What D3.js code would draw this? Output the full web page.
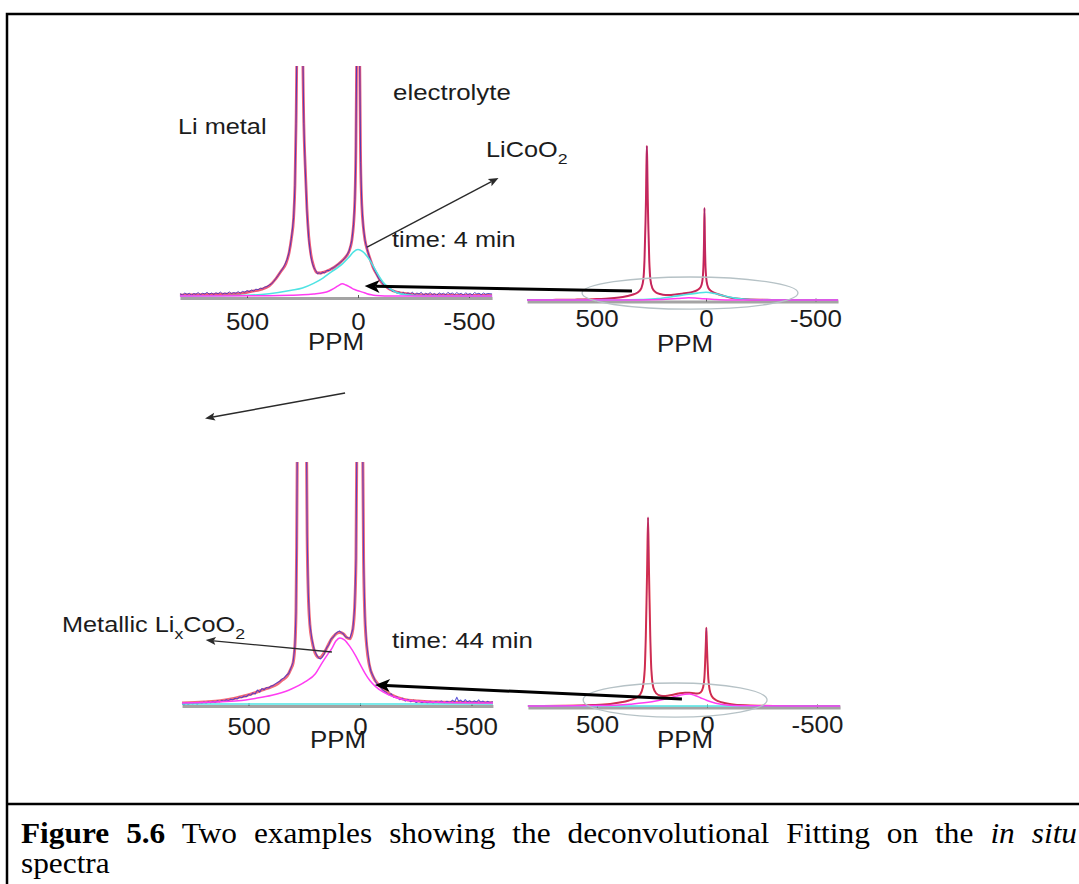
<!DOCTYPE html>
<html>
<head>
<meta charset="utf-8">
<script src="https://cdn.jsdelivr.net/npm/d3@7"></script>
<style>
  body { margin: 0; background: #fff; }
  svg { display: block; }
</style>
</head>
<body>
<svg id="fig" width="1079" height="884"></svg>
<script>
// ---------- values: [chemical shift (ppm), intensity (arb.)] ----------
const tickLabels = [500, 0, -500];

// 4 min, expanded view
const fit4 = [[802,0.4],[700,0.6],[600,0.8],[540,1.0],[480,2.0],[440,2.8],[400,4.4],[370,7.5],[345,11],[325,14],[310,19],[300,25],[290,34],[284,48],[279,75],[275,110],[268,260],[262,330],[256,260],[249,110],[244,75],[238,57],[230,38],[222,26],[212,18],[200,13],[185,10.2],[170,10],[150,10.5],[125,11.5],[100,13],[75,15],[55,17],[40,19.5],[28,24],[20,31],[14,42],[10,60],[6,105],[2,300],[0,340],[-4,250],[-8,100],[-12,58],[-17,40],[-24,30],[-32,24],[-42,20],[-55,16],[-70,12],[-84,9.5],[-105,6],[-130,3.8],[-160,2.2],[-200,1.2],[-260,0.6],[-350,0.4],[-450,0.3],[-604,0.2]];
const data4 = [[802,1.0],[790,0.5],[780,1.3],[770,0.7],[760,1.2],[750,0.4],[740,1.1],[730,0.8],[720,1.5],[710,0.6],[700,1.2],[690,0.9],[680,1.6],[670,0.8],[660,1.3],[650,0.7],[640,1.4],[630,1.0],[620,1.7],[610,0.9],[600,1.3],[590,1.0],[580,1.8],[570,1.1],[560,1.5],[550,1.2],[540,1.9],[530,1.3],[520,2.0],[510,1.6],[500,2.4],[490,1.9],[480,2.6],[470,2.2],[460,3.0],[450,2.7],[440,3.4],[430,3.2],[420,3.9],[410,4.1],[400,4.8],[390,5.2],[380,6.3],[370,7.6],[360,8.9],[350,10.4],[340,11.8],[330,13.6],[320,15.8],[310,19.2],[300,25],[290,34],[284,48],[279,75],[275,110],[268,260],[262,330],[256,260],[249,110],[244,75],[238,56],[230,37],[222,25],[212,17],[205,14],[198,12.2],[190,11.0],[182,9.6],[175,10.2],[168,9.5],[160,10.4],[150,10.0],[140,11.2],[130,11.0],[120,12.0],[110,12.3],[100,13.1],[90,13.8],[80,14.6],[70,15.4],[60,16.4],[50,17.8],[40,19.6],[28,24],[20,31],[14,42],[10,60],[6,105],[2,300],[0,340],[-4,250],[-8,100],[-12,58],[-17,40],[-24,30],[-32,24],[-42,20],[-55,16],[-70,12],[-84,9.3],[-95,7.2],[-105,6.4],[-115,4.8],[-125,4.4],[-135,3.2],[-145,3.0],[-155,2.0],[-165,2.3],[-175,1.2],[-185,1.8],[-195,0.9],[-205,1.6],[-215,0.6],[-225,1.4],[-235,0.8],[-245,1.7],[-255,0.5],[-265,1.3],[-275,0.9],[-285,1.6],[-295,0.4],[-305,1.2],[-315,0.7],[-325,1.5],[-335,0.6],[-345,1.1],[-355,0.3],[-365,1.4],[-375,0.8],[-385,1.2],[-395,0.5],[-405,1.6],[-415,0.9],[-425,1.3],[-435,0.6],[-445,1.5],[-455,0.8],[-465,1.2],[-475,0.4],[-485,1.4],[-495,0.7],[-505,1.1],[-515,0.5],[-525,1.5],[-535,0.9],[-545,1.2],[-555,0.6],[-565,1.3],[-575,0.8],[-585,1.1],[-604,0.9]];
const broad4 = [[802,0],[500,0.3],[400,1.0],[300,2.5],[250,3.5],[200,5.5],[158,7.8],[120,10.5],[90,12.5],[68,14.2],[40,17],[20,19.2],[0,20.2],[-20,19.4],[-53,15.6],[-80,11],[-113,6],[-140,3.5],[-173,1.5],[-220,0.5],[-300,0.1],[-604,0]];
const shoulder4 = [[802,0],[400,0.1],[300,0.3],[250,0.5],[200,0.9],[158,1.4],[130,2.2],[110,3.2],[90,4.4],[70,5.3],[55,4.8],[35,3.8],[15,2.8],[0,2.3],[-20,1.7],[-40,1.0],[-60,0.5],[-80,0.2],[-120,0],[-604,0]];

// 4 min, full view
const fit4Full = [[817,0],[700,0.05],[600,0.15],[500,0.4],[430,0.8],[380,1.3],[340,2.2],[310,3.4],[295,5.2],[286,9],[281,17],[277,31],[274,44],[272,58],[270,67],[268,58],[266,44],[263,31],[259,17],[254,9],[245,5.2],[230,3.4],[210,2.6],[185,2.2],[160,2.2],[130,2.5],[100,2.9],[70,3.3],[40,4.3],[25,5.5],[17,8],[12,14],[9,26],[7,40],[5,26],[2,14],[-3,8],[-11,5.2],[-25,3.8],[-45,2.9],[-80,1.8],[-120,0.9],[-170,0.4],[-250,0.1],[-350,0],[-603,0]];
const data4Full = [[817,0.1],[760,-0.1],[700,0.2],[640,0.0],[580,0.3],[520,0.2],[460,0.6],[420,0.9],[380,1.3],[340,2.3],[310,3.5],[295,5.2],[286,9],[281,17],[277,31],[274,44],[272,58],[270,67],[268,58],[266,44],[263,31],[259,17],[254,9],[245,5.0],[230,3.5],[210,2.5],[185,2.3],[160,2.1],[130,2.6],[100,2.8],[70,3.4],[40,4.2],[25,5.6],[17,8],[12,14],[9,26],[7,40],[5,26],[2,14],[-3,8],[-11,5.1],[-25,3.9],[-45,2.8],[-80,1.9],[-120,0.8],[-170,0.5],[-220,0.1],[-280,0.3],[-340,0.0],[-400,0.2],[-470,-0.1],[-540,0.2],[-603,0.0]];
const broad4Full = [[817,0],[400,0],[300,0.2],[220,0.6],[150,1.5],[90,2.4],[40,3.0],[0,3.4],[-40,2.8],[-90,1.6],[-140,0.7],[-200,0.2],[-300,0],[-603,0]];
const shoulder4Full = [[817,0],[300,0],[200,0.2],[130,0.6],[80,1.0],[50,0.9],[10,0.5],[-40,0.2],[-100,0],[-603,0]];

// 44 min, expanded view
const fit44 = [[798,0.4],[700,0.8],[626,1.3],[560,2.4],[506,3.6],[470,4.7],[432,6.0],[400,7.0],[372,8.2],[350,9.8],[327,11.5],[310,14.5],[300,17],[292,24],[287,38],[284,65],[281,110],[270,300],[260,400],[250,300],[240,110],[237,70],[232,46],[225,33],[215,26],[205,22],[195,20],[185,19.2],[175,19.4],[165,20.5],[150,23],[130,26.5],[110,28.8],[92,29.5],[75,29],[60,27.5],[45,27],[32,31],[24,40],[18,60],[14,110],[5,350],[0,400],[-5,350],[-12,110],[-16,60],[-22,36],[-30,24],[-42,16],[-60,11],[-80,8.3],[-103,6.2],[-140,3.8],[-193,2.0],[-260,1.2],[-350,0.8],[-450,0.6],[-596,0.5]];
const data44 = [[798,0.2],[790,-0.3],[780,0.4],[770,-0.2],[760,0.5],[750,0.0],[740,0.6],[730,-0.1],[720,0.7],[710,0.2],[700,0.8],[690,0.3],[680,0.9],[670,0.4],[660,1.1],[650,0.6],[640,1.3],[630,0.9],[620,1.4],[610,1.1],[600,1.8],[590,1.4],[580,2.0],[570,1.7],[560,2.4],[550,2.1],[540,2.9],[530,2.6],[520,3.3],[510,3.0],[500,3.9],[490,3.6],[480,4.6],[470,4.1],[460,5.8],[450,4.9],[440,6.4],[430,5.9],[420,6.8],[410,6.6],[400,7.4],[390,7.6],[380,8.3],[370,8.9],[360,9.4],[350,10.3],[340,10.8],[330,11.9],[320,12.6],[310,14.8],[300,17.3],[292,24],[287,38],[284,65],[281,110],[270,300],[260,400],[250,300],[240,110],[237,70],[232,46],[225,33],[215,26.5],[205,22.4],[195,20.3],[185,19.0],[178,18.6],[170,19.3],[160,20.8],[150,23.2],[140,24.5],[130,26.8],[120,27.6],[110,29.0],[100,29.8],[92,30.2],[85,29.6],[75,29.0],[65,27.8],[55,27.4],[45,27.2],[32,31],[24,40],[18,60],[14,110],[5,350],[0,400],[-5,350],[-12,110],[-16,60],[-22,36],[-30,24.5],[-42,16.5],[-50,13.2],[-60,11.4],[-70,9.2],[-80,8.0],[-90,7.3],[-103,5.6],[-115,5.0],[-128,3.8],[-140,4.2],[-152,2.7],[-165,3.0],[-178,1.8],[-190,2.4],[-203,1.2],[-215,1.9],[-228,0.9],[-240,1.6],[-252,0.6],[-265,1.3],[-278,0.5],[-290,1.2],[-302,0.4],[-315,1.1],[-328,0.3],[-340,1.0],[-352,0.5],[-365,1.3],[-378,0.4],[-390,1.1],[-402,0.6],[-415,1.6],[-425,0.9],[-434,2.8],[-442,1.2],[-452,1.6],[-462,0.7],[-472,1.8],[-482,0.9],[-492,1.4],[-502,0.6],[-512,1.3],[-522,0.8],[-532,1.7],[-542,0.7],[-552,1.2],[-562,0.5],[-572,1.1],[-582,0.6],[-596,0.9]];
const broad44 = [[798,0],[-596,0]];
const shoulder44 = [[798,0.4],[650,0.8],[546,1.3],[470,2.3],[395,3.6],[320,5.7],[245,9.2],[200,12.5],[170,17],[145,20.5],[126,23],[108,26],[90,27.3],[70,26.5],[45,23.7],[20,20],[0,16.5],[-22,12.8],[-45,9.6],[-70,7.2],[-103,5.0],[-150,3.0],[-193,1.9],[-260,1.1],[-345,0.7],[-450,0.5],[-596,0.4]];

// 44 min, full view
const fit44Full = [[814,0],[650,0.1],[520,0.4],[440,0.9],[390,1.6],[355,2.4],[330,3.2],[305,4.8],[292,8],[283,16],[278,31],[275,45],[272,60],[268,82],[264,60],[261,45],[258,31],[253,16],[244,8],[231,5.5],[210,4.5],[190,4.4],[160,4.8],[130,5.4],[100,5.8],[80,5.8],[60,5.5],[45,5.4],[28,6],[18,8],[12,12],[8,20],[5,28],[3,34],[1,28],[-2,20],[-6,12],[-12,7],[-22,4.2],[-40,2.6],[-70,1.5],[-110,0.8],[-170,0.3],[-250,0.1],[-350,0],[-605,0]];
const data44Full = [[814,0.1],[760,-0.1],[700,0.2],[650,0.0],[590,0.3],[520,0.5],[440,0.8],[390,1.7],[355,2.3],[330,3.3],[305,4.7],[292,8],[283,16],[278,31],[275,45],[272,60],[268,82],[264,60],[261,45],[258,31],[253,16],[244,8],[231,5.4],[210,4.6],[190,4.3],[160,4.9],[130,5.3],[100,5.9],[80,5.7],[60,5.6],[45,5.3],[28,6.1],[18,8],[12,12],[8,20],[5,28],[3,34],[1,28],[-2,20],[-6,12],[-12,7],[-22,4.3],[-40,2.5],[-70,1.6],[-110,0.7],[-170,0.4],[-230,0.0],[-300,0.2],[-380,-0.1],[-450,0.2],[-520,0.0],[-605,0.1]];
const broad44Full = [[814,0],[-605,0]];
const shoulder44Full = [[814,0],[500,0.2],[350,0.8],[250,1.8],[190,3.0],[140,4.3],[100,5.1],[80,5.2],[55,4.6],[30,3.6],[0,2.4],[-40,1.2],[-90,0.4],[-150,0.1],[-605,0]];

// ---------- drawing ----------
const svg = d3.select('#fig');
const SANS = '"Liberation Sans", Arial, Helvetica, sans-serif';
const SERIF = '"Liberation Serif", "Times New Roman", Times, serif';
const defs = svg.append('defs');

// figure frame and caption rule
svg.append('rect').attr('x', 7).attr('y', 14).attr('width', 1100).attr('height', 900)
  .attr('fill', 'none').attr('stroke', '#000').attr('stroke-width', 2.5);
svg.append('line').attr('x1', 7).attr('x2', 1079).attr('y1', 804).attr('y2', 804)
  .attr('stroke', '#000').attr('stroke-width', 2.5);

const colors = { broad: '#4fe3e3', shoulder: '#ff3cf2' };

function makePanel(cfg) {
  const x = d3.scaleLinear().domain(cfg.ppm)
    .range([cfg.zero - cfg.ppm[0] * cfg.k, cfg.zero - cfg.ppm[1] * cfg.k]);
  const y = d3.scaleLinear().domain([0, 100]).range([cfg.base, cfg.base - 100 * cfg.unit]);
  const g = svg.append('g');

  const clipId = 'clip-' + cfg.id;
  defs.append('clipPath').attr('id', clipId).append('rect')
    .attr('x', x.range()[0] - 2).attr('y', cfg.top)
    .attr('width', x.range()[1] - x.range()[0] + 4).attr('height', cfg.base - cfg.top + 8);

  // axis
  const axis = d3.axisBottom(x).tickValues(tickLabels).tickFormat(d => String(d))
    .tickSizeInner(-3).tickSizeOuter(0);
  const ag = g.append('g').attr('transform', `translate(0,${cfg.axisY})`).call(axis)
    .attr('font-family', SANS).attr('font-size', 24);
  ag.select('.domain').attr('stroke', '#a4a4a4').attr('stroke-width', 3);
  ag.selectAll('.tick line').attr('stroke', '#555').attr('stroke-width', 1);
  ag.selectAll('.tick text').attr('y', cfg.tickY).attr('dy', 0).attr('fill', '#1c1c1c')
    .attr('transform', 'scale(1.08,1)');

  // axis title
  g.append('text').attr('transform', `translate(${cfg.ppmX},${cfg.ppmY}) scale(1.08,1)`)
    .attr('text-anchor', 'middle').attr('font-family', SANS).attr('font-size', 24)
    .attr('fill', '#1c1c1c').text('PPM');

  // spectra
  const plot = g.append('g').attr('clip-path', `url(#${clipId})`);
  const smooth = d3.line().x(d => x(d[0])).y(d => y(d[1])).curve(d3.curveMonotoneX);
  const raw = d3.line().x(d => x(d[0])).y(d => y(d[1]));
  plot.append('path').datum(cfg.fit).attr('d', smooth).attr('fill', 'none')
    .attr('stroke', cfg.fitColor).attr('stroke-width', cfg.fitW);
  plot.append('path').datum(cfg.data).attr('d', raw).attr('fill', 'none')
    .attr('stroke', cfg.dataColor).attr('stroke-width', cfg.dataW).attr('stroke-linejoin', 'round');
  plot.append('path').datum(cfg.broad).attr('d', smooth).attr('fill', 'none')
    .attr('stroke', colors.broad).attr('stroke-width', 1.6);
  plot.append('path').datum(cfg.shoulder).attr('d', smooth).attr('fill', 'none')
    .attr('stroke', colors.shoulder).attr('stroke-width', 1.5);

  return { x, y, g };
}

const pTL = makePanel({ id: 'tl', ppm: [802, -604], zero: 358, k: 0.222, base: 296, unit: 2.3, top: 66,
  axisY: 298, tickY: 32, ppmX: 336, ppmY: 350, fitW: 2.8, dataW: 1.0,
  fitColor: '#ee5a78', dataColor: 'rgba(60,50,190,0.85)',
  fit: fit4, data: data4, broad: broad4, shoulder: shoulder4 });
const pTR = makePanel({ id: 'tr', ppm: [817, -603], zero: 706, k: 0.219, base: 300, unit: 2.3, top: 70,
  axisY: 301.5, tickY: 26, ppmX: 685, ppmY: 352, fitW: 2.0, dataW: 0.7,
  fitColor: '#e0284f', dataColor: 'rgba(110,40,140,0.6)',
  fit: fit4Full, data: data4Full, broad: broad4Full, shoulder: shoulder4Full });
const pBL = makePanel({ id: 'bl', ppm: [798, -596], zero: 360, k: 0.223, base: 704, unit: 2.42, top: 462,
  axisY: 706, tickY: 29, ppmX: 338, ppmY: 748, fitW: 3.0, dataW: 1.1,
  fitColor: '#f26a78', dataColor: 'rgba(60,50,210,0.8)',
  fit: fit44, data: data44, broad: broad44, shoulder: shoulder44 });
const pBR = makePanel({ id: 'br', ppm: [814, -605], zero: 707, k: 0.22, base: 706, unit: 2.3, top: 480,
  axisY: 707.5, tickY: 25.5, ppmX: 685, ppmY: 748, fitW: 2.0, dataW: 0.7,
  fitColor: '#e8303e', dataColor: 'rgba(110,40,160,0.55)',
  fit: fit44Full, data: data44Full, broad: broad44Full, shoulder: shoulder44Full });

// highlighted regions on the full views
function ring(p, cPpm, cInt, rPpm, rInt) {
  const cx = p.x(cPpm), cy = p.y(cInt);
  svg.append('ellipse').attr('cx', cx).attr('cy', cy)
    .attr('rx', Math.abs(p.x(cPpm - rPpm) - cx)).attr('ry', Math.abs(p.y(rInt) - p.y(0)))
    .attr('fill', 'none').attr('stroke', '#b6c2c6').attr('stroke-width', 1.3);
}
ring(pTR, 73, 3, 493, 7);
ring(pBR, 145, 2.6, 418, 7.4);

// arrows
function at(p, ppm, v) { return [p.x(ppm), p.y(v)]; }
function arrow(a, b, thick) {
  const ang = Math.atan2(b[1] - a[1], b[0] - a[0]);
  const L = thick ? 15 : 10, w = thick ? 6.5 : 4, notch = thick ? 4 : 2;
  const ux = Math.cos(ang), uy = Math.sin(ang), px = -uy, py = ux;
  const bx = b[0] - L * ux, by = b[1] - L * uy;
  const col = thick ? '#000' : '#2a2a2a';
  svg.append('line').attr('x1', a[0]).attr('y1', a[1])
    .attr('x2', b[0] - (L - notch) * ux).attr('y2', b[1] - (L - notch) * uy)
    .attr('stroke', col).attr('stroke-width', thick ? 3 : 1.4);
  const pts = [b, [bx + w * px, by + w * py], [bx + notch * ux, by + notch * uy], [bx - w * px, by - w * py]];
  svg.append('path').attr('d', 'M' + pts.map(q => q.join(',')).join('L') + 'Z').attr('fill', col);
}
arrow(at(pTL, -41, 21.3), at(pTL, -633, 51.3), false);
arrow(at(pTR, 338, 3.9), at(pTL, -30, 4.3), true);
arrow(at(pBL, 67, 128.5), at(pBL, 695, 118), false);
arrow(at(pBL, 126, 21.5), at(pBL, 692, 26.4), false);
arrow(at(pBR, 114, 3), at(pBL, -67, 7.9), true);

// text labels
function label(x, y, parts, size) {
  const t = svg.append('text').attr('transform', `translate(${x},${y}) scale(1.15,1)`)
    .attr('font-family', SANS).attr('font-size', size).attr('fill', '#1c1c1c');
  let shifted = 0;
  parts.forEach(p => {
    const s = t.append('tspan').text(p.t);
    if (p.sub) {
      s.attr('font-size', size * 0.7).attr('dy', 7 - shifted);
      shifted = 7;
    } else {
      s.attr('dy', -shifted);
      shifted = 0;
    }
  });
}
label(178, 134, [{ t: 'Li metal' }], 22);
label(393, 100, [{ t: 'electrolyte' }], 22.5);
label(486, 157, [{ t: 'LiCoO' }, { t: '2', sub: true }], 22);
label(392, 247, [{ t: 'time: 4 min' }], 22);
label(62, 632, [{ t: 'Metallic Li' }, { t: 'x', sub: true }, { t: 'CoO' }, { t: '2', sub: true }], 22);
label(392, 648, [{ t: 'time: 44 min' }], 22.5);

// caption
const capScale = 1.08;
const cap1 = svg.append('text').attr('transform', `translate(21,843) scale(${capScale},1)`)
  .attr('font-family', SERIF).attr('font-size', 29).attr('fill', '#000');
cap1.append('tspan').attr('font-weight', 'bold').text('Figure 5.6');
cap1.append('tspan').text(' Two examples showing the deconvolutional Fitting on the ');
cap1.append('tspan').attr('font-style', 'italic').text('in situ');
const natural = cap1.node().getComputedTextLength();
const target = (1077 - 21) / capScale;
cap1.attr('word-spacing', Math.max(0, (target - natural) / 11));
svg.append('text').attr('transform', `translate(21,873) scale(${capScale},1)`)
  .attr('font-family', SERIF).attr('font-size', 29).attr('fill', '#000').text('spectra');
</script>
</body>
</html>
